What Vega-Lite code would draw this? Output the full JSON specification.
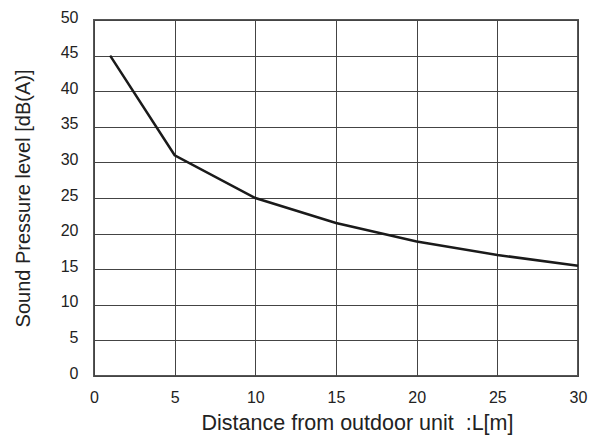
{
  "$schema": "https://vega.github.io/schema/vega-lite/v6.json",
  "width": 484,
  "height": 356,
  "autosize": {"type": "none"},
  "padding": {"left": 94, "top": 20, "right": 17, "bottom": 65},
  "background": "white",
  "config": {
    "font": "Liberation Sans",
    "view": {"stroke": "#555555", "strokeWidth": 2},
    "axis": {
      "labelFont": "Liberation Sans",
      "titleFont": "Liberation Sans",
      "labelFontSize": 16,
      "titleFontSize": 20,
      "labelColor": "#222222",
      "titleColor": "#222222",
      "titleFontWeight": "normal",
      "grid": true,
      "gridColor": "#444444",
      "gridWidth": 1,
      "gridOpacity": 1,
      "ticks": false,
      "domain": false,
      "labelFlush": false,
      "labelOverlap": false,
      "labelBound": false
    }
  },
  "data": {
    "values": [
      {"distance": 1, "level": 45},
      {"distance": 5, "level": 31},
      {"distance": 10, "level": 25},
      {"distance": 15, "level": 21.5},
      {"distance": 20, "level": 18.9},
      {"distance": 25, "level": 17},
      {"distance": 30, "level": 15.5}
    ]
  },
  "mark": {"type": "line", "color": "#1a1a1a", "strokeWidth": 2.5},
  "encoding": {
    "x": {
      "field": "distance",
      "type": "quantitative",
      "scale": {"domain": [0, 30], "nice": false},
      "axis": {"values": [0, 5, 10, 15, 20, 25, 30], "labelPadding": 13, "title": "Distance from outdoor unit\u00a0 :L[m]", "titleFontSize": 21.5, "titlePadding": 7, "titleX": 263, "titleAlign": "center"}
    },
    "y": {
      "field": "level",
      "type": "quantitative",
      "scale": {"domain": [0, 50], "nice": false},
      "axis": {"values": [0, 5, 10, 15, 20, 25, 30, 35, 40, 45, 50], "labelPadding": 16, "labelOffset": -3, "title": "Sound Pressure level [dB(A)]", "titlePadding": 27}
    }
  }
}
